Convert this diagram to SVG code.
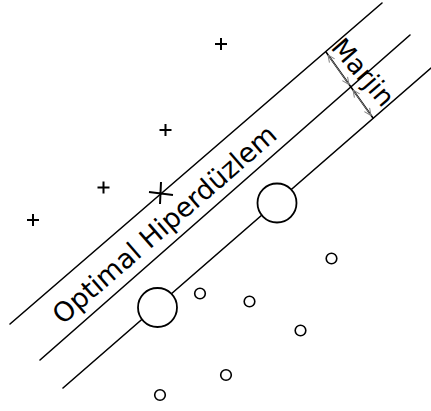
<svg xmlns="http://www.w3.org/2000/svg" width="431" height="411" viewBox="0 0 431 411">
  <defs>
    <marker id="ah" viewBox="0 0 8 8" refX="7.5" refY="4" markerWidth="8" markerHeight="8" markerUnits="userSpaceOnUse" orient="auto-start-reverse">
      <path d="M0.5,0.8 L7.5,4 L0.5,7.2" fill="none" stroke="#808080" stroke-width="1"/>
    </marker>
  </defs>
  <style>
    .ln { stroke: #000; stroke-width: 1.6; fill: none; stroke-linecap: round; }
    .pt { stroke: #000; stroke-width: 2; fill: none; stroke-linecap: butt; }
    .sv { stroke: #000; stroke-width: 1.8; fill: #fff; }
    .sm { stroke: #000; stroke-width: 1.6; fill: #fff; }
    .ar { stroke: #808080; stroke-width: 1; fill: none; marker-start: url(#ah); marker-end: url(#ah); }
    .lbl { font-family: "DejaVu Sans", Verdana, sans-serif; fill: #000; }
  </style>
  <rect width="431" height="411" fill="#fff"/>

  <g id="connectors">
    <line id="line-top" class="ln" x1="10" y1="324" x2="382" y2="3"/>
    <line id="line-middle" class="ln" x1="40" y1="360" x2="410" y2="35"/>
    <line id="line-bottom" class="ln" x1="63" y1="388" x2="431" y2="68"/>
    <line id="margin-tick" class="ln" x1="326" y1="52" x2="373" y2="118"/>
    <line class="ar" x1="328" y1="55" x2="349" y2="84.5"/>
    <line class="ar" x1="353" y1="90" x2="371" y2="115.5"/>
  </g>

  <g id="plus-points">
    <path class="pt" d="M215,44 h12 M221,38 v12"/>
    <path class="pt" d="M159.5,130 h12 M165.5,124 v12"/>
    <path class="pt" d="M97.5,187.5 h12 M103.5,181.5 v12"/>
    <path class="pt" d="M27,220 h12 M33,214 v12"/>
    <path id="support-plus" class="pt" d="M149,192 L173,195 M161,182 L160,204"/>
  </g>

  <g id="support-circles">
    <circle class="sv" cx="277" cy="203" r="19.5"/>
    <circle class="sv" cx="157.5" cy="307.5" r="19.5"/>
  </g>

  <g id="circle-points">
    <circle class="sm" cx="331.5" cy="258.5" r="5.3"/>
    <circle class="sm" cx="200" cy="293.5" r="5.3"/>
    <circle class="sm" cx="249.5" cy="301.5" r="5.3"/>
    <circle class="sm" cx="300.5" cy="330.5" r="5.3"/>
    <circle class="sm" cx="226" cy="375" r="5.3"/>
    <circle class="sm" cx="160" cy="395" r="5.3"/>
  </g>

  <g id="label-hyperplane">
    <text class="lbl" font-size="27" text-anchor="middle" transform="translate(164,224) rotate(-41)" x="0" y="10">Optimal Hiperdüzlem</text>
  </g>
  <g id="label-margin">
    <text class="lbl" font-size="26" transform="translate(330,48) rotate(49)" x="0" y="0">Marjin</text>
  </g>
</svg>
